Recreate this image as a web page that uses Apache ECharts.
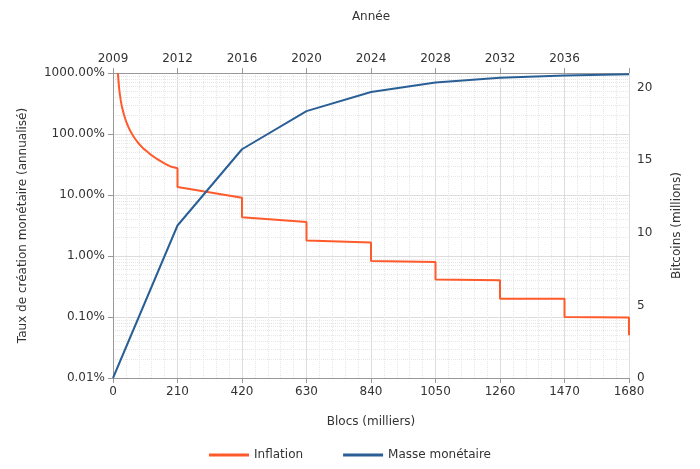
<!DOCTYPE html>
<html><head><meta charset="utf-8">
<script src="https://cdn.jsdelivr.net/npm/echarts@6/dist/echarts.min.js"></script>
<style>html,body{margin:0;padding:0;background:#fff}#c{width:700px;height:469px}</style>
</head><body><div id="c"></div>
<script>
const blockTicks = [0,210,420,630,840,1050,1260,1470,1680];
const yearLabels = ['2009','2012','2016','2020','2024','2028','2032','2036',''];
const inflationBlocks = [16,18,20,22,25,28,32,36,40,45,50,56,62,70,78,88,100,112,125,140,155,170,190,210,210,420,420,630,630,840,840,1050,1050,1260,1260,1470,1470,1680,1680];
const inflationPct = [1000,720,560,460,362,297,244,205,176,150,131,113,100,86,76,66,57,51,45,40,36,32.5,29,27.5,13.5,9,4.3,3.6,1.8,1.67,0.83,0.8,0.41,0.4,0.2,0.2,0.1,0.098,0.05];
const supplyBlocks = [0,210,420,630,840,1050,1260,1470,1680];
const supplyMillions = [0,10.5,15.75,18.375,19.6875,20.34,20.67,20.83,20.92];

const font = 'DejaVu Sans';
const chart = echarts.init(document.getElementById('c'));
const minorGrid = {show:true, lineStyle:{color:'#e6e6e6', type:'dotted'}};
const hiddenMinorTick = {show:true, splitNumber:5, length:0, lineStyle:{color:'rgba(0,0,0,0)'}};
chart.setOption({
  textStyle:{fontFamily:font},
  animation:false,
  grid:{left:113, right:71, top:73, bottom:91},
  legend:{bottom:3, left:'center', itemGap:40, icon:'path://M0,0 L40,0 L40,3 L0,3 Z', itemWidth:40, itemHeight:3,
    textStyle:{fontFamily:font, fontSize:12, color:'#333'},
    data:['Inflation','Masse monétaire']},
  xAxis:[
    {type:'value', position:'bottom', min:0, max:1680, interval:210,
     name:'Blocs (milliers)', nameLocation:'middle', nameGap:38,
     nameTextStyle:{fontSize:12, color:'#333'},
     axisLine:{lineStyle:{color:'#999'}}, axisTick:{show:true, lineStyle:{color:'#999'}},
     axisLabel:{color:'#333', fontSize:12, formatter:v=>String(v)},
     splitLine:{show:true, lineStyle:{color:'#ddd'}},
     minorTick:hiddenMinorTick, minorSplitLine:minorGrid},
    {type:'value', position:'top', min:0, max:1680, interval:210,
     name:'Année', nameLocation:'middle', nameGap:50,
     nameTextStyle:{fontSize:12, color:'#333'},
     axisLine:{lineStyle:{color:'#999'}}, axisTick:{show:true, lineStyle:{color:'#999'}},
     axisLabel:{color:'#333', fontSize:12, formatter:v=>yearLabels[blockTicks.indexOf(v)] ?? ''},
     splitLine:{show:false}}
  ],
  yAxis:[
    {type:'log', logBase:10, min:0.01, max:1000, position:'left',
     name:'Taux de création monétaire (annualisé)', nameLocation:'middle', nameGap:84, nameRotate:90,
     nameTextStyle:{fontSize:12, color:'#333'},
     axisLine:{show:true, lineStyle:{color:'#999'}}, axisTick:{show:true, lineStyle:{color:'#999'}},
     axisLabel:{color:'#333', fontSize:12, formatter:v=>v.toFixed(2)+'%'},
     splitLine:{show:true, lineStyle:{color:'#ddd'}},
     minorTick:{show:true, splitNumber:9, length:0, lineStyle:{color:'rgba(0,0,0,0)'}}, minorSplitLine:minorGrid},
    {type:'value', min:0, max:21, interval:5, position:'right',
     name:'Bitcoins (millions)', nameLocation:'middle', nameGap:42, nameRotate:90,
     nameTextStyle:{fontSize:12, color:'#333'},
     axisLine:{show:true, lineStyle:{color:'#999'}}, axisTick:{show:false},
     axisLabel:{color:'#333', fontSize:12, showMaxLabel:false},
     splitLine:{show:false}, minorTick:{show:false}, minorSplitLine:{show:false}}
  ],
  series:[
    {name:'Inflation', type:'line', xAxisIndex:0, yAxisIndex:0, showSymbol:false, symbol:'none',
     color:'#ff5a2b', lineStyle:{width:2, color:'#ff5a2b'},
     data:inflationBlocks.map((b,i)=>[b,inflationPct[i]])},
    {name:'Masse monétaire', type:'line', xAxisIndex:0, yAxisIndex:1, showSymbol:false, symbol:'none',
     color:'#2a5f96', lineStyle:{width:2, color:'#2a5f96'},
     data:supplyBlocks.map((b,i)=>[b,supplyMillions[i]])}
  ]
});
</script></body></html>
